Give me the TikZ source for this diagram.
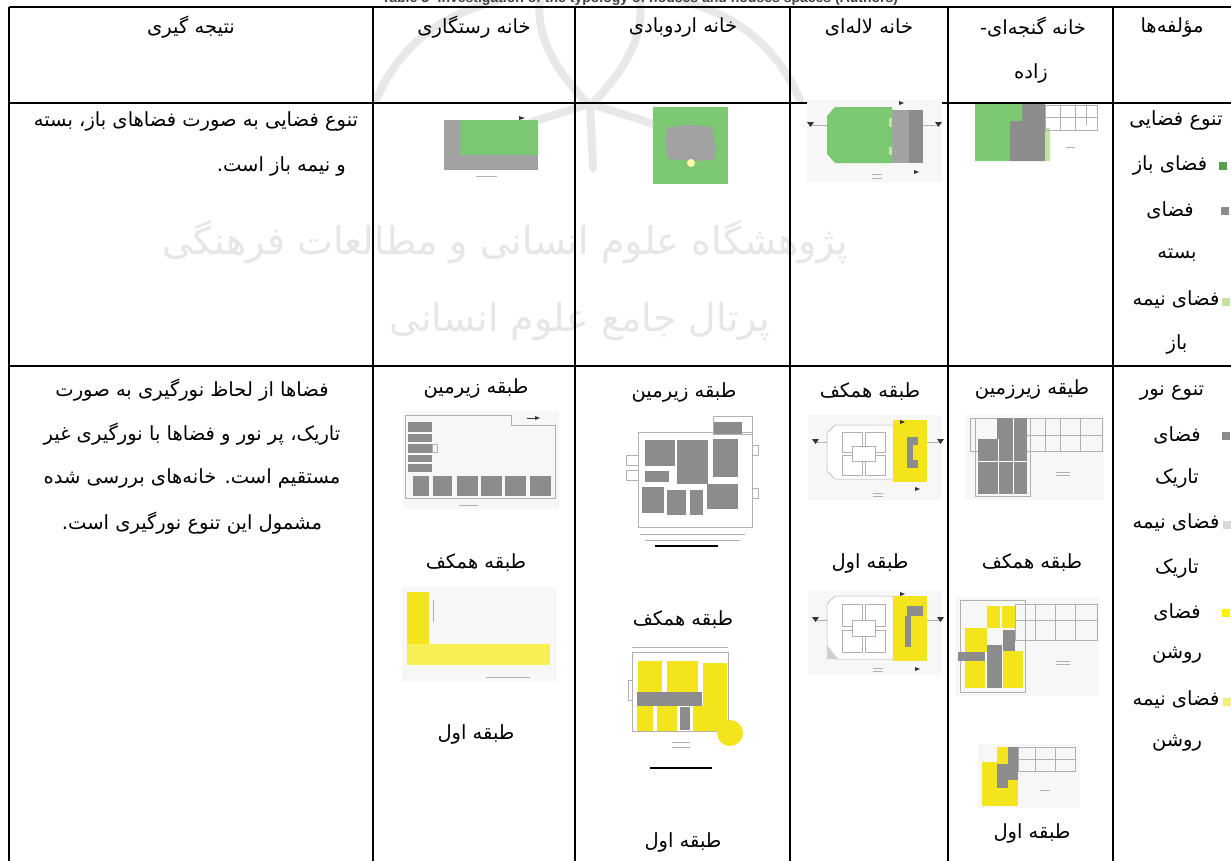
\documentclass[tikz,border=0pt]{standalone}
\usepackage{fontspec}
\TeXXeTstate=1
\setmainfont{Liberation Serif}
\newfontfamily\fa[Script=Arabic]{DejaVu Sans}
\newfontfamily\capfont{Liberation Sans}
\newcommand\rtl[1]{\beginR#1\endR}
\definecolor{pgreen}{HTML}{7DC873}
\definecolor{pgray}{HTML}{8C8C8C}
\definecolor{pgray2}{HTML}{A2A2A2}
\definecolor{pyellow}{HTML}{F4E41C}
\definecolor{pyellow2}{HTML}{F8EE55}
\definecolor{lgreen}{HTML}{C4E1A4}
\definecolor{sqgreen}{HTML}{56A246}
\definecolor{sqgray}{HTML}{8C8C8C}
\definecolor{sqlgray}{HTML}{D8D8D8}
\definecolor{sqyellow}{HTML}{FFF200}
\definecolor{sqlyellow}{HTML}{F2EE78}
\definecolor{wm}{HTML}{E6E6E6}
\definecolor{emb}{HTML}{E8E8E8}
\definecolor{pline}{HTML}{B0B0B0}
\definecolor{pbg}{HTML}{F7F7F7}
\tikzset{
  txt/.style={font=\fa\fontsize{19.5}{22}\selectfont, inner sep=0pt, text=black},
  wmtxt/.style={font=\fa\fontsize{38}{40}\selectfont, inner sep=0pt, text=wm},
  embline/.style={draw=emb, line width=8pt, line cap=round},
  grid/.style={line width=1.6pt, black},
  pl/.style={draw=pline, line width=0.5pt},
  sq/.style={minimum size=8pt, inner sep=0pt, draw=none},
  tipmark/.style={fill=black!80},
}
\begin{document}
\begin{tikzpicture}[x=1pt,y=-1pt]
\useasboundingbox (0,0) rectangle (1231,860);
\fill[white] (0,0) rectangle (1231,860);

% watermark emblem (faint)
\draw[embline] (376,100) .. controls (400,45) and (440,15) .. (500,0);
\draw[embline] (800,100) .. controls (776,45) and (736,15) .. (680,0);
\draw[embline] (588,104) .. controls (560,75) and (535,40) .. (540,0);
\draw[embline] (592,104) .. controls (620,75) and (645,40) .. (640,0);
\draw[embline] (590,104) -- (593,168);
\draw[embline] (590,104) .. controls (545,118) and (505,128) .. (470,152);
\draw[embline] (590,104) .. controls (635,118) and (675,128) .. (706,152);

% clipped caption
\node[font=\capfont\bfseries\fontsize{14}{16}\selectfont, text=black!75, anchor=base, inner sep=0pt] (cap) at (640,2.5) {Table 3- Investigation of the typology of houses and houses spaces (Authors)};

% watermark text
\node[wmtxt] (wm1) at (505,242) {\rtl{پژوهشگاه علوم انسانی و مطالعات فرهنگی}};
\node[wmtxt] (wm2) at (580,322) {\rtl{پرتال جامع علوم انسانی}};

% ---------- grid ----------
\draw[grid] (9,7) -- (1240,7);
\draw[grid] (9,103) -- (1240,103);
\draw[grid] (9,366) -- (1240,366);
\foreach \x in {9,373,575,790,948,1113} \draw[grid] (\x,7) -- (\x,870);

% ---------- header ----------
\node[txt] (h1) at (191,27) {\rtl{نتیجه گیری}};
\node[txt] (h2) at (474,27) {\rtl{خانه رستگاری}};
\node[txt] (h3) at (683,27) {\rtl{خانه اردوبادی}};
\node[txt] (h4) at (869,27) {\rtl{خانه لاله‌ای}};
\node[txt] (h5) at (1033,27) {\rtl{خانه گنجه‌ای-}};
\node[txt] (h5b) at (1031,73) {\rtl{زاده}};
\node[txt] (h6) at (1172,27) {\rtl{مؤلفه‌ها}};

% ---------- row 2 text ----------
\node[txt] (c1a) at (196,121) {\rtl{تنوع فضایی به صورت فضاهای باز، بسته}};
\node[txt, anchor=east] (c1b) at (346,166) {\rtl{و نیمه باز است.}};

\node[txt] (r1) at (1176,120) {\rtl{تنوع فضایی}};
\node[txt] (r2) at (1170,165) {\rtl{فضای باز}};
\node[sq, fill=sqgreen] (s1) at (1223,166) {};
\node[txt] (r3) at (1170,210) {\rtl{فضای}};
\node[sq, fill=sqgray] (s2) at (1225,211) {};
\node[txt] (r4) at (1177,255) {\rtl{بسته}};
\node[txt] (r5) at (1176,300) {\rtl{فضای نیمه}};
\node[sq, fill=lgreen] (s3) at (1226,302) {};
\node[txt] (r6) at (1177,344) {\rtl{باز}};

% ---------- row 2 plans ----------
% Rastegari
\fill[pgray2] (444,120) rectangle (538,170);
\fill[pgreen] (460,120) rectangle (538,155);
\draw[pl] (476,176) -- (497,176);
\fill[tipmark] (525,118) -- (519,116) -- (519,120) -- cycle;
% Ordubadi
\fill[pgreen] (653,107) rectangle (728,184);
\fill[pgray2] (668,127) -- (690,125) -- (712,127) -- (716,150) -- (714,160) -- (698,161) -- (686,160) -- (668,159) -- (665,140) -- cycle;
\fill[yellow!35] (691,163) circle (4);
% Laleh
\fill[pbg] (807,100) rectangle (942,182);
\draw[pl] (812,125) -- (938,125);
\fill[tipmark] (807,122) -- (814,122) -- (810.5,127) -- cycle;
\fill[tipmark] (935,122) -- (942,122) -- (938.5,127) -- cycle;
\fill[pgreen] (835,107) -- (892,107) -- (892,163) -- (835,163) -- (827,154) -- (827,116) -- cycle;
\fill[pgray2] (892,110) rectangle (909,163);
\fill[pgray] (909,110) rectangle (923,163);
\fill[lgreen] (889,118) rectangle (892,127);
\fill[lgreen] (889,147) rectangle (892,155);
\fill[tipmark] (904,103) -- (899,101) -- (899,105) -- cycle;
\fill[tipmark] (919,172) -- (914,170) -- (914,174) -- cycle;
\draw[pl] (872,174) -- (882,174) (872,178) -- (882,178);
% Ganjeh
\fill[pgreen] (975,104) -- (1022,104) -- (1022,121) -- (1010,121) -- (1010,161) -- (975,161) -- cycle;
\fill[pgray] (1022,104) -- (1045,104) -- (1045,161) -- (1010,161) -- (1010,121) -- (1022,121) -- cycle;
\fill[lgreen] (1045,128) rectangle (1050,161);
\draw[pl] (1045,105) rectangle (1097,130);
\draw[pl] (1060,105) -- (1060,130) (1075,105) -- (1075,130) (1045,117) -- (1097,117) (1086,105) -- (1086,125);
\draw[pl] (1066,147) -- (1075,147);

% ---------- row 3 text ----------
\node[txt] (d1) at (192,390) {\rtl{فضاها از لحاظ نورگیری به صورت}};
\node[txt] (d2) at (192,434) {\rtl{تاریک، پر نور و فضاها با نورگیری غیر}};
\node[txt] (d3) at (192,478) {\rtl{مستقیم است. خانه‌های بررسی شده}};
\node[txt] (d4) at (192,523) {\rtl{مشمول این تنوع نورگیری است.}};

\node[txt] (q1) at (1172,393) {\rtl{تنوع نور}};
\node[txt] (q2) at (1177,435) {\rtl{فضای}};
\node[sq, fill=sqgray] (t1) at (1226,436) {};
\node[txt] (q3) at (1177,478) {\rtl{تاریک}};
\node[txt] (q4) at (1176,523) {\rtl{فضای نیمه}};
\node[sq, fill=sqlgray] (t2) at (1227,525) {};
\node[txt] (q5) at (1177,568) {\rtl{تاریک}};
\node[txt] (q6) at (1177,612) {\rtl{فضای}};
\node[sq, fill=sqyellow] (t3) at (1226,613) {};
\node[txt] (q7) at (1177,655) {\rtl{روشن}};
\node[txt] (q8) at (1176,700) {\rtl{فضای نیمه}};
\node[sq, fill=sqlyellow] (t4) at (1227,702) {};
\node[txt] (q9) at (1177,743) {\rtl{روشن}};

% labels
\node[txt] (ra) at (476,388) {\rtl{طبقه زیرمین}};
\node[txt] (rb) at (476,563) {\rtl{طبقه همکف}};
\node[txt] (rc) at (476,734) {\rtl{طبقه اول}};
\node[txt] (oa) at (684,392) {\rtl{طبقه زیرمین}};
\node[txt] (ob) at (683,620) {\rtl{طبقه همکف}};
\node[txt] (oc) at (683,842) {\rtl{طبقه اول}};
\node[txt] (la) at (870,392) {\rtl{طبقه همکف}};
\node[txt] (lb) at (870,563) {\rtl{طبقه اول}};
\node[txt] (ga) at (1032,389) {\rtl{طیقه زیرزمین}};
\node[txt] (gb) at (1032,563) {\rtl{طبقه همکف}};
\node[txt] (gc) at (1032,833) {\rtl{طبقه اول}};

% ---------- row 3 plans ----------
% Rastegari basement
\fill[pbg] (403,411) rectangle (559,509);
\draw[pl] (405,415) -- (511,415) -- (511,425) -- (555,425) -- (555,498) -- (405,498) -- cycle;
\foreach \a/\b in {422/432,434/442,444/453,455/462,464/472}
  \fill[pgray] (408,\a) rectangle (432,\b);
\foreach \a/\b in {413/429,433/452,457/478,481/502,505/526,530/551}
  \fill[pgray] (\a,476) rectangle (\b,496);
\draw[pl] (432,444) rectangle (437,452);
\draw[black!80, line width=0.6pt] (527,418) -- (538,418);
\fill[tipmark] (540,418) -- (535,416) -- (535,420) -- cycle;
\draw[pl] (459,505) -- (478,505);
% Rastegari ground
\fill[pbg] (402,587) rectangle (557,682);
\fill[pyellow] (407,592) rectangle (429,646);
\fill[pyellow2] (407,644) rectangle (550,665);
\draw[pl] (433,600) -- (433,622);
\draw[pl] (486,677) -- (530,677);

% Ordubadi basement
\draw[pl] (638,432) rectangle (752,527);
\draw[pl] (713,416) rectangle (752,434);
\draw[pl] (626,455) rectangle (638,465);
\draw[pl] (626,470) rectangle (638,480);
\draw[pl] (752,445) rectangle (758,455);
\draw[pl] (752,488) rectangle (758,498);
\draw[pl] (640,534) -- (745,534) (645,540) -- (740,540);
\fill[pgray] (645,440) rectangle (675,466);
\fill[pgray] (645,471) rectangle (669,482);
\fill[pgray] (677,440) rectangle (708,484);
\fill[pgray] (713,439) rectangle (738,477);
\fill[pgray] (714,422) rectangle (742,434);
\fill[pgray] (642,487) rectangle (664,513);
\fill[pgray] (667,490) rectangle (686,515);
\fill[pgray] (690,490) rectangle (703,515);
\fill[pgray] (707,484) rectangle (738,509);
\draw[black, line width=1.6pt] (655,546) -- (718,546);
% Ordubadi ground
\draw[pl] (632,652) rectangle (728,731);
\draw[pl] (632,647) -- (728,647);
\draw[pl] (628,680) rectangle (632,700);
\fill[pyellow] (638,661) rectangle (662,694);
\fill[pyellow] (667,661) rectangle (698,694);
\fill[pyellow] (703,663) -- (727,663) -- (727,731) -- (693,731) -- (693,706) -- (703,706) -- cycle;
\fill[pyellow] (637,706) rectangle (653,731);
\fill[pyellow] (657,706) rectangle (677,731);
\fill[pgray] (637,692) rectangle (702,706);
\fill[pgray] (680,707) rectangle (690,730);
\fill[pyellow] (730,733) circle (13);
\draw[pl] (672,742) -- (690,742) (672,747) -- (690,747);
\draw[black, line width=1.6pt] (650,768) -- (712,768);

% Laleh ground
\fill[pbg] (808,415) rectangle (942,500);
\draw[pl] (815,442) -- (940,442);
\fill[tipmark] (812,439) -- (819,439) -- (815.5,444) -- cycle;
\fill[tipmark] (937,439) -- (944,439) -- (940.5,444) -- cycle;
\draw[pl, fill=white] (835,425) -- (893,425) -- (893,479) -- (835,479) -- (827,471) -- (827,433) -- cycle;
\draw[pl] (842,432) rectangle (862,452) (865,432) rectangle (885,452) (842,455) rectangle (862,475) (865,455) rectangle (885,475);
\draw[pl, fill=white] (852,446) rectangle (875,461);
\fill[pyellow] (893,420) rectangle (927,482);
\fill[pgray] (907,437) rectangle (913,468);
\fill[pgray] (907,437) rectangle (918,445);
\fill[pgray] (907,460) rectangle (918,468);
\fill[tipmark] (905,422) -- (900,420) -- (900,424) -- cycle;
\fill[tipmark] (920,489) -- (915,487) -- (915,491) -- cycle;
\draw[pl] (873,493) -- (883,493) (873,496) -- (883,496);
% Laleh first
\fill[pbg] (808,590) rectangle (942,675);
\draw[pl] (815,620) -- (940,620);
\fill[tipmark] (812,617) -- (819,617) -- (815.5,622) -- cycle;
\fill[tipmark] (937,617) -- (944,617) -- (940.5,622) -- cycle;
\draw[pl, fill=white] (835,596) -- (893,596) -- (893,659) -- (835,659) -- (827,651) -- (827,604) -- cycle;
\fill[pline!60] (827,645) -- (838,659) -- (827,659) -- cycle;
\draw[pl] (842,604) rectangle (862,626) (865,604) rectangle (885,626) (842,630) rectangle (862,652) (865,630) rectangle (885,652);
\draw[pl, fill=white] (852,620) rectangle (875,636);
\fill[pyellow] (893,596) rectangle (927,661);
\fill[pgray] (907,606) rectangle (923,616);
\fill[pgray] (905,616) rectangle (911,647);
\fill[tipmark] (905,594) -- (900,592) -- (900,596) -- cycle;
\fill[tipmark] (920,669) -- (915,667) -- (915,671) -- cycle;
\draw[pl] (873,668) -- (883,668) (873,671) -- (883,671);

% Ganjeh basement
\fill[pbg] (966,414) rectangle (1104,500);
\draw[pl] (970,418) rectangle (1102,451);
\draw[pl] (975,418) rectangle (1030,496);
\draw[pl] (1045,418) -- (1045,451) (1060,418) -- (1060,451) (1080,418) -- (1080,451) (1027,435) -- (1102,435);
\fill[pgray] (978,439) rectangle (1027,494);
\fill[pgray] (997,418) rectangle (1027,439);
\draw[white, line width=0.8pt] (998,439) -- (998,494) (978,461) -- (1027,461) (1013,418) -- (1013,494);
\draw[pl] (1056,472) -- (1070,472) (1056,475) -- (1070,475);
% Ganjeh ground
\fill[pbg] (955,597) rectangle (1099,696);
\draw[pl] (960,600) rectangle (1025,692);
\draw[pl] (1015,604) rectangle (1097,640);
\draw[pl] (1035,604) -- (1035,640) (1055,604) -- (1055,640) (1075,604) -- (1075,640) (1015,620) -- (1097,620);
\fill[pyellow] (987,606) rectangle (1000,628);
\fill[pyellow] (1002,606) rectangle (1015,628);
\fill[pyellow] (965,628) rectangle (987,652);
\fill[pyellow] (965,661) rectangle (985,688);
\fill[pyellow] (1003,651) rectangle (1023,688);
\fill[pgray] (1003,630) rectangle (1015,651);
\fill[pgray] (958,652) rectangle (985,661);
\fill[pgray] (987,645) rectangle (1002,688);
\draw[pl] (1056,661) -- (1070,661) (1056,664) -- (1070,664);
% Ganjeh first
\fill[pbg] (978,744) rectangle (1080,808);
\fill[pyellow] (982,762) rectangle (1018,806);
\fill[pyellow] (997,747) rectangle (1010,764);
\fill[pgray] (1008,747) rectangle (1018,780);
\fill[pgray] (997,764) rectangle (1008,788);
\draw[pl] (1018,747) rectangle (1075,771);
\draw[pl] (1035,747) -- (1035,771) (1055,747) -- (1055,771) (1018,759) -- (1075,759);
\draw[pl] (1040,790) -- (1050,790);
\end{tikzpicture}
\end{document}
